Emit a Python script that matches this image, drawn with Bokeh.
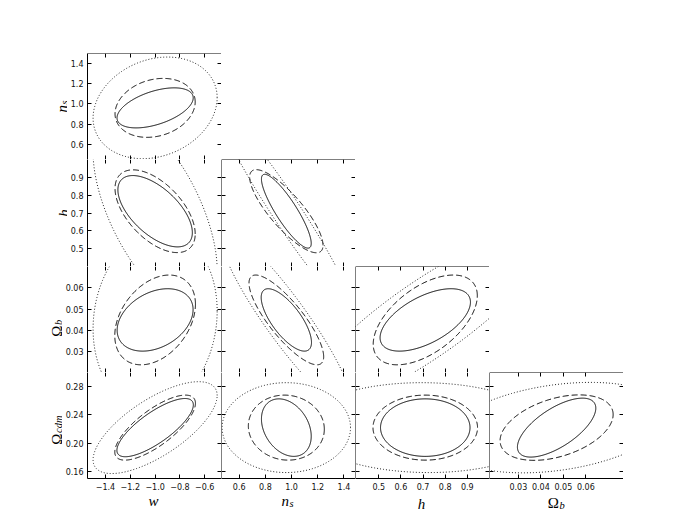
import numpy as np
from bokeh.plotting import figure
from bokeh.layouts import row, column
from bokeh.models import LinearAxis, FixedTicker, Range1d, CustomJSTickFormatter, Spacer, Label
from bokeh.core.properties import value
from bokeh.embed import file_html
from bokeh.resources import INLINE

# ---------------- data ----------------
x_params = ["w", "ns", "h", "Ob"]
y_params = ["ns", "h", "Ob", "Ocdm"]

x_limits = {"w": (-1.545, -0.465), "ns": (0.465, 1.488), "h": (0.395, 1.0), "Ob": (0.0172, 0.0767)}
y_limits = {"ns": (0.452, 1.495), "h": (0.40, 1.0), "Ob": (0.0204, 0.070), "Ocdm": (0.150, 0.300)}

tick_values = {
    "w": [-1.4, -1.2, -1.0, -0.8, -0.6],
    "ns": [0.6, 0.8, 1.0, 1.2, 1.4],
    "h": [0.5, 0.6, 0.7, 0.8, 0.9],
    "Ob": [0.03, 0.04, 0.05, 0.06],
    "Ocdm": [0.16, 0.20, 0.24, 0.28],
}
tick_decimals = {"w": 1, "ns": 1, "h": 1, "Ob": 2, "Ocdm": 2}

# axis titles: main symbol + subscript
title_main = {"w": "w", "ns": "n", "h": "h", "Ob": "\u03a9", "Ocdm": "\u03a9"}
title_sub = {"w": "", "ns": "s", "h": "", "Ob": "b", "Ocdm": "cdm"}

# one entry per panel
panel_x = ["w", "w", "w", "w", "ns", "ns", "ns", "h", "h", "Ob"]
panel_y = ["ns", "h", "Ob", "Ocdm", "h", "Ob", "Ocdm", "Ob", "Ocdm", "Ocdm"]
center_x = [-1.0, -1.0, -1.0, -1.0, 0.96, 0.96, 0.96, 0.71, 0.71, 0.047]
center_y = [0.96, 0.71, 0.045, 0.222, 0.71, 0.045, 0.222, 0.045, 0.222, 0.222]

solid_sx = [0.307, 0.30, 0.306, 0.308, 0.19, 0.192, 0.19, 0.204, 0.202, 0.0174]
solid_sy = [0.197, 0.20, 0.0146, 0.0412, 0.207, 0.0146, 0.0407, 0.0146, 0.0407, 0.0417]
solid_rho = [0.5, -0.6, 0.33, 0.78, -0.87, -0.72, -0.3, 0.57, 0.0, 0.66]

dashed_sx = [0.323, 0.323, 0.325, 0.325, 0.28, 0.285, 0.29, 0.235, 0.236, 0.0251]
dashed_sy = [0.29, 0.232, 0.021, 0.046, 0.233, 0.021, 0.046, 0.021, 0.046, 0.0463]
dashed_rho = [0.2, -0.55, 0.35, 0.75, -0.82, -0.82, -0.05, 0.54, 0.0, 0.4]

dotted_sx = [0.5, 0.5, 0.5, 0.5, 0.5, 0.5, 0.49, 0.55, 0.55, 0.05]
dotted_sy = [0.5, 0.55, 0.0417, 0.065, 0.55, 0.0417, 0.0636, 0.0417, 0.0636, 0.064]
dotted_rho = [0.2, -0.6, 0.1, 0.7, -0.966, -0.92, 0.0, 0.86, -0.03, 0.3]

# ---------------- layout ----------------
FW = 134
FH = [106, 107, 106, 106]
LEFT_EDGE = 86                 # page x of the first panel column
TW = [67, 67, 62, 62]          # width of the y-title strip per row (rest is tick-label room)
TOPB, BB, XTH = 53, 15, 30
TICK_FONT = "8px"
MAIN, SUB = "15px", "10.5px"
SERIF = "Liberation Serif"


def fmt(param):
    return CustomJSTickFormatter(
        code="return tick.toFixed(%d).replace('-', '\u2212');" % tick_decimals[param])


def make_axis(param, labelled, line, fixed):
    vals = tick_values[param]
    ax = LinearAxis(
        axis_line_color="black" if line else None, axis_line_width=1,
        major_tick_in=4, major_tick_out=0, minor_tick_in=4, minor_tick_out=0,
        major_tick_line_color="black", minor_tick_line_color="black",
        major_label_text_font="DejaVu Sans", major_label_text_color="#111111",
        major_label_text_font_size=TICK_FONT, major_label_standoff=4,
    )
    if labelled:
        ax.ticker = FixedTicker(ticks=vals, minor_ticks=[])
        ax.formatter = fmt(param)
    else:
        ax.ticker = FixedTicker(ticks=[], minor_ticks=vals)   # tick marks only
        ax.fixed_location = fixed
    return ax


def blank_fig(fw, fh, xr, yr, left=0, top=0, bottom=0):
    p = figure(frame_width=fw, frame_height=fh, x_range=Range1d(*xr), y_range=Range1d(*yr),
               output_backend="svg", toolbar_location=None, tools="",
               x_axis_location=None, y_axis_location=None,
               min_border_left=left, min_border_right=0,
               min_border_top=top, min_border_bottom=bottom,
               background_fill_color="white", border_fill_color="white",
               outline_line_color=None)
    p.grid.visible = False
    return p


figs = {}
for r, yp in enumerate(y_params):
    for c, xp in enumerate(x_params):
        if c > r:
            continue
        p = blank_fig(FW, FH[r], x_limits[xp], y_limits[yp],
                      left=(LEFT_EDGE - TW[r]) if c == 0 else 0,
                      top=TOPB if r == 0 else 0, bottom=BB if r == 3 else 0)
        x0, x1 = x_limits[xp]
        y0, y1 = y_limits[yp]
        diag = (c == r)
        p.add_layout(make_axis(xp, r == 3, True, y0), "below")
        p.add_layout(make_axis(xp, False, diag, y1), "above")
        p.add_layout(make_axis(yp, c == 0, True, x0), "left")
        p.add_layout(make_axis(yp, False, diag, x1), "right")
        figs[(r, c)] = p

theta = np.linspace(0, 2 * np.pi, 400)


def ellipse_xy(cx, cy, sx, sy, rho):
    x = cx + sx * np.cos(theta)
    y = cy + sy * (rho * np.cos(theta) + np.sqrt(1 - rho ** 2) * np.sin(theta))
    return x, y


styles = [
    (dotted_sx, dotted_sy, dotted_rho, dict(line_dash="1 2", line_width=1.0, line_color="#222222")),
    (dashed_sx, dashed_sy, dashed_rho, dict(line_dash="6 3", line_width=1.0, line_color="black")),
    (solid_sx, solid_sy, solid_rho, dict(line_dash="solid", line_width=1.0, line_color="black")),
]

for k in range(len(panel_x)):
    p = figs[(y_params.index(panel_y[k]), x_params.index(panel_x[k]))]
    for sxs, sys_, rhos, kw in styles:
        ex, ey = ellipse_xy(center_x[k], center_y[k], sxs[k], sys_[k], rhos[k])
        p.line(ex, ey, **kw)


# ---------------- axis titles (own small figures, 1 unit = 1 px) ----------------
def put(p, txt, x, y, size, align, angle=0.0, italic=True):
    p.text(x=[x], y=[y], text=[txt], angle=angle,
           text_font=value(SERIF), text_font_size=value(size),
           text_font_style=value("italic" if italic else "normal"),
           text_align=value(align), text_baseline=value("alphabetic"),
           text_color="black")


def put_label(p, txt, x, y, size, align, angle=0.0, italic=True):
    p.add_layout(Label(x=x, y=y, text=txt, angle=angle,
                       text_font=SERIF, text_font_size=size,
                       text_font_style="italic" if italic else "normal",
                       text_align=align, text_baseline="alphabetic",
                       text_color="black"))


A = np.pi / 2
# (main baseline x, sub baseline x, junction / centre y from frame bottom)
ytitle_pos = {"ns": (61.5, 63.5, 54.5), "h": (63.0, 0, 53.5), "Ob": (56.0, 58.0, 47.0), "Ocdm": (56.0, 58.0, 45.0)}
ytitles = []
for r, yp in enumerate(y_params):
    t = blank_fig(TW[r], FH[r], (0, TW[r]), (0, FH[r]),
                  top=TOPB if r == 0 else 0, bottom=BB if r == 3 else 0)
    bx, sbx, jy = ytitle_pos[yp]
    if title_sub[yp]:
        put_label(t, title_main[yp], bx, jy, MAIN, "right", A, italic=(yp == "ns"))
        put_label(t, title_sub[yp], sbx, jy + 0.5, SUB, "left", A)
    else:
        put_label(t, title_main[yp], bx, jy, MAIN, "center", A)
    ytitles.append(t)

# (junction / centre x, main baseline y, sub baseline y) from frame bottom-left
xtitle_pos = {"w": (67, 23, 0), "ns": (68.5, 23, 20), "h": (67, 20, 0), "Ob": (70.5, 21, 18)}
xtitles = []
for c, xp in enumerate(x_params):
    t = blank_fig(FW, XTH, (0, FW), (0, XTH))
    jx, by, sby = xtitle_pos[xp]
    if title_sub[xp]:
        put(t, title_main[xp], jx, by, MAIN, "right", italic=(xp == "ns"))
        put(t, title_sub[xp], jx + 0.5, sby, SUB, "left")
    else:
        put(t, title_main[xp], jx, by, MAIN, "center")
    xtitles.append(t)

rows = [row([ytitles[r]] + [figs[(r, c)] for c in range(r + 1)]) for r in range(4)]
rows.append(row([Spacer(width=LEFT_EDGE, height=XTH)] + xtitles))
layout = column(rows)

open("out.html", "w").write(file_html(layout, INLINE))
